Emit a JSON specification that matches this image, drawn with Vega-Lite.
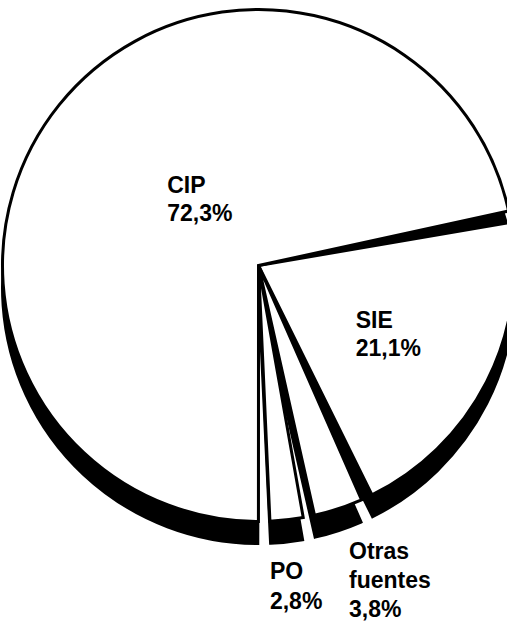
{
  "$schema": "https://vega.github.io/schema/vega-lite/v6.json",
  "width": 497,
  "height": 511,
  "autosize": "none",
  "padding": {"left": 10, "right": 0, "top": 10, "bottom": 100},
  "background": "white",
  "config": {"view": {"stroke": null}},
  "data": {
    "values": [
      {"fuente": "SIE", "valor": 21.1, "orden": 1, "etiqueta": "SIE\n21,1%"},
      {"fuente": "Otras fuentes", "valor": 3.8, "orden": 2, "etiqueta": "Otras\nfuentes\n3,8%"},
      {"fuente": "PO", "valor": 2.8, "orden": 3, "etiqueta": "PO\n2,8%"},
      {"fuente": "CIP", "valor": 72.3, "orden": 4, "etiqueta": "CIP\n72,3%"}
    ]
  },
  "transform": [
    {"stack": "valor", "groupby": [], "sort": [{"field": "orden", "order": "ascending"}], "as": ["t0", "t1"]},
    {"calculate": "(datum.t0 + datum.t1) / 2", "as": "tm"}
  ],
  "layer": [
    {
      "mark": {"type": "arc", "outerRadius": 256, "fill": "black", "stroke": "black", "strokeWidth": 3, "padAngle": 0.05, "yOffset": 22},
      "encoding": {
        "theta": {"field": "t0", "type": "quantitative", "scale": {"domain": [0, 100], "range": [1.379, 7.662]}},
        "theta2": {"field": "t1"}
      }
    },
    {
      "mark": {"type": "arc", "outerRadius": 256, "fill": "white", "stroke": "black", "strokeWidth": 3, "padAngle": 0.045},
      "encoding": {
        "theta": {"field": "t0", "type": "quantitative", "scale": {"domain": [0, 100], "range": [1.379, 7.662]}},
        "theta2": {"field": "t1"}
      }
    },
    {
      "transform": [{"filter": "datum.fuente === 'CIP'"}],
      "mark": {"type": "text", "radius": 125, "align": "left", "baseline": "top", "dx": 6, "dy": -12, "lineBreak": "\n", "lineHeight": 28, "font": "Liberation Sans", "fontWeight": "bold", "fontSize": 23, "fill": "black"},
      "encoding": {"theta": {"field": "tm", "type": "quantitative", "scale": {"domain": [0, 100], "range": [1.379, 7.662]}}, "text": {"field": "etiqueta"}}
    },
    {
      "transform": [{"filter": "datum.fuente === 'SIE'"}],
      "mark": {"type": "text", "radius": 108, "align": "left", "baseline": "top", "dx": 1, "dy": -5, "lineBreak": "\n", "lineHeight": 28, "font": "Liberation Sans", "fontWeight": "bold", "fontSize": 23, "fill": "black"},
      "encoding": {"theta": {"field": "tm", "type": "quantitative", "scale": {"domain": [0, 100], "range": [1.379, 7.662]}}, "text": {"field": "etiqueta"}}
    },
    {
      "transform": [{"filter": "datum.fuente === 'PO'"}],
      "mark": {"type": "text", "radius": 295, "align": "left", "baseline": "top", "dx": -21, "dy": 2, "lineBreak": "\n", "lineHeight": 30, "font": "Liberation Sans", "fontWeight": "bold", "fontSize": 23, "fill": "black"},
      "encoding": {"theta": {"field": "tm", "type": "quantitative", "scale": {"domain": [0, 100], "range": [1.379, 7.662]}}, "text": {"field": "etiqueta"}}
    },
    {
      "transform": [{"filter": "datum.fuente === 'Otras fuentes'"}],
      "mark": {"type": "text", "radius": 290, "align": "left", "baseline": "top", "dx": 0, "dy": 0, "lineBreak": "\n", "lineHeight": 29, "font": "Liberation Sans", "fontWeight": "bold", "fontSize": 23, "fill": "black"},
      "encoding": {"theta": {"field": "tm", "type": "quantitative", "scale": {"domain": [0, 100], "range": [1.379, 7.662]}}, "text": {"field": "etiqueta"}}
    }
  ]
}
